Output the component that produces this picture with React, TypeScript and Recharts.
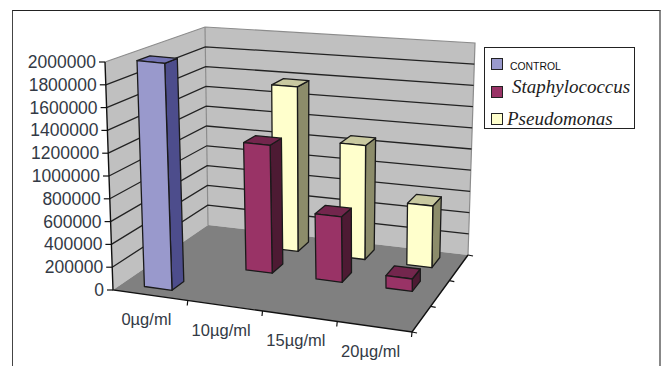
import React from "react";
import { ComposedChart, Bar, XAxis, YAxis, Legend, CartesianGrid, Customized } from "recharts";

// Chart data
const doses = ["0µg/ml", "10µg/ml", "15µg/ml", "20µg/ml"];
const controlCounts = [2000000, 0, 0, 0];
const staphylococcusCounts = [0, 1170000, 590000, 110000];
const pseudomonasCounts = [0, 1570000, 1070000, 570000];
const valueTicks = [0, 200000, 400000, 600000, 800000, 1000000, 1200000, 1400000, 1600000, 1800000, 2000000];

const rows = doses.map((dose, i) => ({
  dose,
  control: controlCounts[i],
  staphylococcus: staphylococcusCounts[i],
  pseudomonas: pseudomonasCounts[i],
}));

// Flat plot rectangle; the scales work in here and project() tilts the result into the 3D box
const PLOT = { left: 113, top: 62, width: 299, height: 228 };
type P = [number, number];
// Box corners: [front/back][left/right][floor/top]
const FL0: P = [113, 290];
const FL1: P = [105, 62];
const FR0: P = [412, 332];
const FR1: P = [404, 92];
const BL0: P = [208, 225];
const BL1: P = [205, 27];
const BR0: P = [468, 255];
const BR1: P = [475, 43];

const mix = (a: P, b: P, t: number): P => [a[0] + (b[0] - a[0]) * t, a[1] + (b[1] - a[1]) * t];
const project = (u: number, v: number, w: number): P => {
  const f = mix(mix(FL0, FR0, u), mix(FL1, FR1, u), w);
  const b = mix(mix(BL0, BR0, u), mix(BL1, BR1, u), w);
  return mix(f, b, v);
};
const pts = (list: P[]) => list.map((p) => `${p[0].toFixed(1)},${p[1].toFixed(1)}`).join(" ");
const fromX = (x: number) => (x - PLOT.left) / PLOT.width;
const fromY = (y: number) => (PLOT.top + PLOT.height - y) / PLOT.height;

// One 3D column: side, top and front faces, placed at a row depth inside the box
const makeBox = (depthFront: number, depthBack: number, nudge: number, side: string, top: string) => (props: any) => {
  const { x, y, width, height, fill, value } = props;
  const v = Array.isArray(value) ? value[1] - value[0] : value;
  if (!v) return <g />;
  const u0 = fromX(x + nudge);
  const u1 = fromX(x + nudge + width);
  const w1 = fromY(y);
  const w0 = fromY(y + height);
  const stroke = { stroke: "#1a1a1a", strokeWidth: 1.3, strokeLinejoin: "round" as const };
  return (
    <g>
      <polygon points={pts([project(u1, depthFront, w0), project(u1, depthBack, w0), project(u1, depthBack, w1), project(u1, depthFront, w1)])} fill={side} {...stroke} />
      <polygon points={pts([project(u0, depthFront, w1), project(u1, depthFront, w1), project(u1, depthBack, w1), project(u0, depthBack, w1)])} fill={top} {...stroke} />
      <polygon points={pts([project(u0, depthFront, w0), project(u1, depthFront, w0), project(u1, depthFront, w1), project(u0, depthFront, w1)])} fill={fill} {...stroke} />
    </g>
  );
};

// Walls and floor sit in their own layer underneath the chart
const Walls = () => (
  <svg width={661} height={366} style={{ position: "absolute", left: 0, top: 0 }}>
    <polygon points={pts([BL0, BL1, FL1, FL0])} fill="#c0c0c0" />
    <polygon points={pts([BL0, BL1, BR1, BR0])} fill="#c0c0c0" />
    <polygon points={pts([FL0, BL0, BR0, FR0])} fill="#808080" />
    <polyline points={pts([FL1, BL1, BR1, BR0])} fill="none" stroke="#8c8c8c" strokeWidth={1.2} />
    <line x1={BL0[0]} y1={BL0[1]} x2={BL1[0]} y2={BL1[1]} stroke="#8c8c8c" strokeWidth={1.2} />
  </svg>
);

// Wall grid lines follow the value scale
const gridLine = (props: any) => {
  const w = fromY(props.y1);
  if (w < 0.001 || w > 0.999) return <g key={props.key ?? props.index} />;
  return (
    <polyline
      key={props.key ?? props.index}
      points={pts([project(0, 0, w), project(0, 1, w), project(1, 1, w)])}
      fill="none"
      stroke="#222"
      strokeWidth={1.3}
    />
  );
};

const ValueTick = (props: any) => {
  const w = fromY(props.y);
  const p = project(0, 0, w);
  return (
    <g>
      <line x1={p[0] - 6} y1={p[1]} x2={p[0]} y2={p[1]} stroke="#111" strokeWidth={1.2} />
      <text x={p[0] - 9} y={p[1] + 6} textAnchor="end" fontFamily="Liberation Sans" fontSize={17.5} fill="#333a45">
        {props.payload.value}
      </text>
    </g>
  );
};

const DoseTick = (props: any) => {
  const p = project(fromX(props.x), 0, 0);
  return (
    <text x={p[0] - 4} y={p[1] + 30} textAnchor="middle" fontFamily="Liberation Sans" fontSize={16.5} fill="#333a45">
      {props.payload.value}
    </text>
  );
};

// Front and side floor edges with their tick marks
const FloorEdges = () => {
  const marks: React.ReactNode[] = [];
  doses.forEach((_, i) => {
    const p = project((i + 1) / doses.length, 0, 0);
    marks.push(<line key={`f${i}`} x1={p[0]} y1={p[1]} x2={p[0] - 0.5} y2={p[1] + 5} stroke="#111" strokeWidth={1.2} />);
  });
  [0, 1, 2, 3].forEach((i) => {
    const p = project(1, i / 3, 0);
    marks.push(<line key={`s${i}`} x1={p[0]} y1={p[1]} x2={p[0] + 5} y2={p[1] + 1} stroke="#111" strokeWidth={1.2} />);
  });
  return (
    <g>
      <polyline points={pts([FL1, FL0, FR0, BR0])} fill="none" stroke="#111" strokeWidth={1.4} />
      {marks}
    </g>
  );
};

const legendEntries = [
  { name: "CONTROL", color: "#9999cc", style: { left: 25, top: 13, font: "10.4px 'Liberation Sans'", color: "#111" } },
  { name: "Staphylococcus", color: "#993366", style: { left: 27, top: 28, font: "italic 19px 'Liberation Serif'", color: "#222" } },
  { name: "Pseudomonas", color: "#ffffcc", style: { left: 22, top: 60, font: "italic 19px 'Liberation Serif'", color: "#222" } },
];

const LegendBox = () => (
  <div style={{ position: "relative", width: 151, height: 82, border: "1.3px solid #222", boxSizing: "border-box", background: "#fff" }}>
    {legendEntries.map((e, i) => (
      <React.Fragment key={e.name}>
        <span style={{ position: "absolute", left: 6, top: 10 + i * 27.5, width: 10, height: 10, background: e.color, border: "1px solid #222" }} />
        <span style={{ position: "absolute", whiteSpace: "nowrap", ...e.style }}>{e.name}</span>
      </React.Fragment>
    ))}
  </div>
);

export default function App() {
  return (
    <div style={{ position: "absolute", left: 0, top: 0, width: 661, height: 366, background: "#fff" }}>
      <div style={{ position: "absolute", left: 12, top: 10, width: 649, height: 356, borderLeft: "1.5px solid #444", borderTop: "1.5px solid #222", borderRight: "2.5px solid #888", boxSizing: "border-box" }} />
      <Walls />
      <ComposedChart
        width={661}
        height={366}
        data={rows}
        barCategoryGap="31%"
        margin={{ left: PLOT.left - 1, top: PLOT.top, right: 661 - PLOT.left - PLOT.width, bottom: 366 - PLOT.top - PLOT.height - 1 }}
        style={{ position: "absolute", left: 0, top: 0 }}
      >
        <XAxis dataKey="dose" xAxisId="back" hide />
        <XAxis dataKey="dose" xAxisId="mid" hide />
        <XAxis dataKey="dose" xAxisId="front" height={1} axisLine={false} tickLine={false} tick={DoseTick as any} interval={0} />
        <YAxis domain={[0, 2000000]} ticks={valueTicks} width={1} axisLine={false} tickLine={false} tick={ValueTick as any} interval={0} />
        <CartesianGrid xAxisId="front" vertical={false} horizontal={gridLine as any} />
        <Customized component={FloorEdges} />
        <Bar xAxisId="back" dataKey="pseudomonas" name="Pseudomonas" fill="#ffffcc" isAnimationActive={false} shape={makeBox(0.797, 0.93, -4, "#8c8c6a", "#c9c9a0")} />
        <Bar xAxisId="mid" dataKey="staphylococcus" name="Staphylococcus" fill="#993366" isAnimationActive={false} shape={makeBox(0.483, 0.617, -5, "#4d1a33", "#73264d")} />
        <Bar xAxisId="front" dataKey="control" name="CONTROL" fill="#9999cc" isAnimationActive={false} shape={makeBox(0.1, 0.233, -1, "#4d4d8c", "#7373b3")} />
        <Legend content={LegendBox} wrapperStyle={{ left: 484, top: 47, width: 151, height: 0 }} />
      </ComposedChart>
    </div>
  );
}
